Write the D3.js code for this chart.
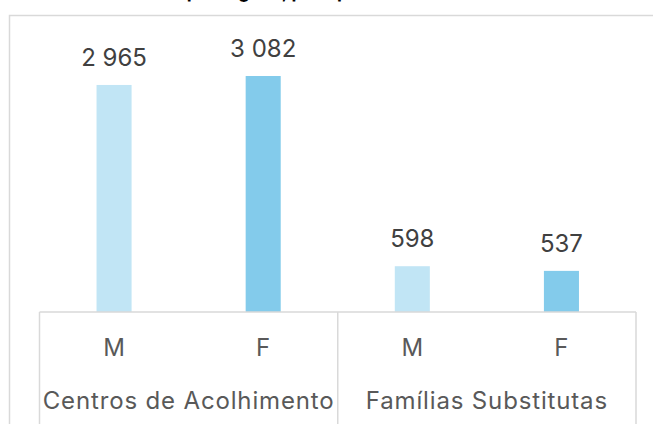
<!DOCTYPE html>
<html><head><meta charset="utf-8">
<script src="https://cdn.jsdelivr.net/npm/d3@7"></script>
<style>
html,body{margin:0;padding:0;background:#fff;}
svg{display:block;}
text{font-family:Inter,"Liberation Sans",Arial,sans-serif;}
</style></head>
<body>
<svg id="chart" width="653" height="424"></svg>
<script>
const title = "Acolhidos por regime, por tipo de acolhimento e sexo";
const groups = ["Centros de Acolhimento", "Famílias Substitutas"];
const sexes = ["M", "F"];
const valuesM = [2965, 598];
const valuesF = [3082, 537];
const yTicks = [0, 3500];

const colors = {M: "#C1E5F5", F: "#83CBEB"};
const data = [];
groups.forEach((g, i) => {
  data.push({group: g, sex: "M", value: valuesM[i]});
  data.push({group: g, sex: "F", value: valuesF[i]});
});

const svg = d3.select("#chart");
const W = 653, H = 424;
const plot = {left: 39.5, right: 636, top: 44, bottom: 312};

// chart border (clipped)
svg.append("path")
  .attr("d", `M9.5,${H} V15.5 H${W}`)
  .attr("fill", "none").attr("stroke", "#d9d9d9").attr("stroke-width", 1.5);

// title (mostly cut off at top, as in the reference)
svg.append("text")
  .attr("x", 327).attr("y", -2.5)
  .attr("text-anchor", "middle")
  .attr("font-weight", "bold").attr("font-size", 18)
  .attr("fill", "#000")
  .text(title);

const x0 = d3.scaleBand().domain(groups).range([plot.left, plot.right]).padding(0);
const x1 = d3.scaleBand().domain(sexes).range([0, x0.bandwidth()]).padding(0);
const y = d3.scaleLinear().domain(d3.extent(yTicks)).range([plot.bottom, plot.top]);
const barW = x1.bandwidth() * 0.235;

// bars
svg.append("g").selectAll("rect").data(data).join("rect")
  .attr("x", d => x0(d.group) + x1(d.sex) + (x1.bandwidth() - barW) / 2)
  .attr("y", d => y(d.value))
  .attr("width", barW)
  .attr("height", d => y(0) - y(d.value))
  .attr("fill", d => colors[d.sex]);

// data labels
svg.append("g").selectAll("text").data(data).join("text")
  .attr("x", d => x0(d.group) + x1(d.sex) + x1.bandwidth() / 2)
  .attr("y", d => y(d.value) - 19)
  .attr("text-anchor", "middle")
  .attr("font-size", 24)
  .attr("fill", "#404040")
  .text(d => d3.format(",")(d.value).replace(/,/g, " "));

// category axis (multi-level)
const axisColor = "#d9d9d9";
const ax = svg.append("g");
ax.append("line").attr("x1", plot.left).attr("x2", plot.right)
  .attr("y1", plot.bottom).attr("y2", plot.bottom)
  .attr("stroke", axisColor).attr("stroke-width", 1.5);
const bounds = groups.map(g => x0(g)).concat([plot.right]);
ax.selectAll("line.div").data(bounds).join("line").attr("class", "div")
  .attr("x1", d => d).attr("x2", d => d)
  .attr("y1", plot.bottom).attr("y2", H)
  .attr("stroke", axisColor).attr("stroke-width", 1.5);

// sex labels
ax.selectAll("text.sex").data(data).join("text").attr("class", "sex")
  .attr("x", d => x0(d.group) + x1(d.sex) + x1.bandwidth() / 2)
  .attr("y", 356)
  .attr("text-anchor", "middle")
  .attr("font-size", 24)
  .attr("fill", "#595959")
  .text(d => d.sex);

// group labels
ax.selectAll("text.grp").data(groups).join("text").attr("class", "grp")
  .attr("x", d => x0(d) + x0.bandwidth() / 2)
  .attr("y", 409)
  .attr("text-anchor", "middle")
  .attr("font-size", 24)
  .attr("letter-spacing", 0.85)
  .attr("fill", "#595959")
  .text(d => d);
</script>
</body></html>
